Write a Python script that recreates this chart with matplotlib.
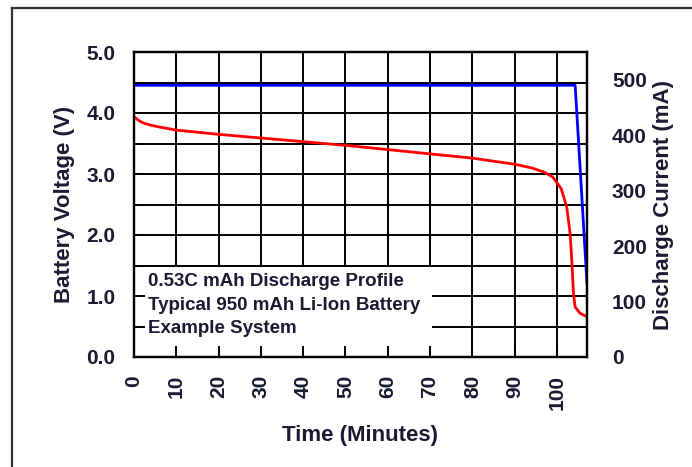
import matplotlib
matplotlib.use("Agg")
import matplotlib.pyplot as plt
import numpy as np
from matplotlib.patches import Rectangle
from matplotlib.lines import Line2D

plt.rcParams['font.family'] = ['Liberation Sans', 'DejaVu Sans']
plt.rcParams['font.weight'] = 'bold'
plt.rcParams['axes.labelweight'] = 'bold'

# discharge data
volt_t = [0, 0.7, 1.5, 2.5, 4, 6, 10, 20, 30, 40, 50, 60, 70, 80, 90, 94, 97,
          99, 101, 102.3, 103.1, 103.5, 103.9, 104.3, 105.4, 107.1]
volt_v = [3.94, 3.90, 3.86, 3.83, 3.80, 3.77, 3.72, 3.65, 3.59, 3.53, 3.47,
          3.40, 3.33, 3.26, 3.16, 3.10, 3.03, 2.95, 2.76, 2.46, 2.03, 1.59,
          1.04, 0.82, 0.72, 0.66]
curr_t = [0, 104.3, 107.1]
curr_ma = [490, 490, 133]

x_ticks = [0, 10, 20, 30, 40, 50, 60, 70, 80, 90, 100]
v_ticks = [0.0, 0.5, 1.0, 1.5, 2.0, 2.5, 3.0, 3.5, 4.0, 4.5, 5.0]
i_ticks = [0, 100, 200, 300, 400, 500]
note_lines = ["0.53C mAh Discharge Profile",
              "Typical 950 mAh Li-Ion Battery",
              "Example System"]

txt_c = '#1a1a33'

fig = plt.figure(figsize=(6.92, 4.67), dpi=100)
ax = fig.add_axes([134/692, 1 - 357/467, 453/692, 305/467])

# outer frame (only top and left edges are in view)
fig.add_artist(Line2D([12/692, 12/692], [0, 1 - 8/467], color='#333333', lw=1.6))
fig.add_artist(Line2D([12/692, 1], [1 - 8/467, 1 - 8/467], color='#333333', lw=1.6))

ax.set_xlim(0, 107.1)
ax.set_ylim(0, 5)

# grid drawn by hand so the note box can sit over it while ticks stay on top
ax.vlines(x_ticks[1:], 0, 5, colors='k', lw=1.4, zorder=1)
ax.hlines(v_ticks[1:-1], 0, 107.1, colors='k', lw=1.4, zorder=1)
ax.add_patch(Rectangle((0, 0), 70.5, 1.47, fc='white', ec='none', zorder=1.5))

ax.plot(volt_t, volt_v, color='#ff0000', lw=2, zorder=3)

ax.set_xticks(x_ticks)
ax.set_xticklabels([str(t) for t in x_ticks], rotation=90, fontsize=15, color=txt_c)
ax.set_yticks(v_ticks)
ax.set_yticklabels([f"{v:.1f}" if v == int(v) else "" for v in v_ticks],
                   fontsize=15, color=txt_c)
ax.tick_params(axis='both', direction='in', length=8, width=1.4)
ax.tick_params(axis='x', pad=13)
ax.tick_params(axis='y', pad=13.5)
for s in ax.spines.values():
    s.set_linewidth(1.6)

ax.set_xlabel("Time (Minutes)", fontsize=16, color=txt_c, fontweight='bold')
ax.xaxis.set_label_coords(0.5, -0.222)
ax.set_ylabel("Battery Voltage (V)", fontsize=16, color=txt_c, fontweight='bold')
ax.yaxis.set_label_coords(-0.130, 0.5)

for i, line in enumerate(note_lines):
    ax.text(3.3, 1.23 - i * 0.385, line, fontsize=13.5, color=txt_c,
            va='center', ha='left', zorder=4)

ax2 = ax.twinx()
ax2.set_ylim(0, 550)
ax2.plot(curr_t, curr_ma, color='#0000ff', lw=2)
ax2.set_yticks(i_ticks)
ax2.set_yticklabels([str(i) for i in i_ticks], fontsize=15, color=txt_c)
ax2.tick_params(axis='y', length=0, pad=18)
ax2.set_ylabel("Discharge Current (mA)", fontsize=16, color=txt_c, fontweight='bold')
ax2.yaxis.set_label_coords(1.146, 0.5)
for s in ax2.spines.values():
    s.set_linewidth(1.6)

fig.savefig("out.png", dpi=100)
